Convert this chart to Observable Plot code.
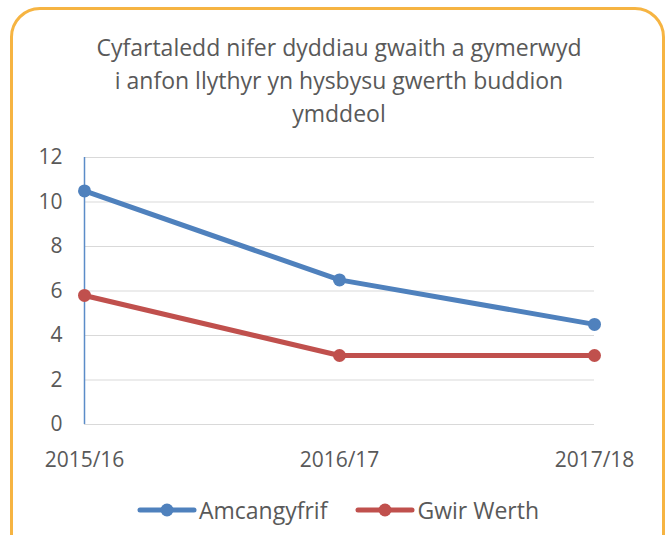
<!DOCTYPE html>
<html><head><meta charset="utf-8">
<script src="https://cdn.jsdelivr.net/npm/d3@7"></script>
<script src="https://cdn.jsdelivr.net/npm/@observablehq/plot@0.6"></script>
<style>
body{margin:0;background:#fff;}
#wrap{position:relative;width:668px;height:535px;overflow:hidden;font-family:"Open Sans",sans-serif;color:#595959;}
#frame{position:absolute;left:10px;top:7px;width:655px;height:560px;border:3px solid #F6B442;border-radius:30px;box-sizing:border-box;}
#title{position:absolute;left:0;top:31px;width:678px;text-align:center;font-size:23px;line-height:33px;}
#chart{position:absolute;left:0;top:140px;}
#legend{position:absolute;top:494px;left:0;width:676px;display:flex;justify-content:center;align-items:center;font-size:23px;}
.item{display:flex;align-items:center;margin:0 14px;}
</style></head>
<body><div id="wrap"><div id="frame"></div>
<div id="title">Cyfartaledd nifer dyddiau gwaith a gymerwyd<br>i anfon llythyr yn hysbysu gwerth buddion<br>ymddeol</div>
<div id="chart"></div><div id="legend"></div></div>
<script>
const categories = ["2015/16", "2016/17", "2017/18"];
const amcangyfrif = [10.5, 6.5, 4.5];
const gwirWerth = [5.8, 3.1, 3.1];
const yTicks = [0, 2, 4, 6, 8, 10, 12];
const seriesNames = ["Amcangyfrif", "Gwir Werth"];
const seriesColors = ["#4F81BD", "#C0504D"];

const data = [];
categories.forEach((c, i) => {
  data.push({cat: c, value: amcangyfrif[i], series: seriesNames[0]});
  data.push({cat: c, value: gwirWerth[i], series: seriesNames[1]});
});

const chart = Plot.plot({
  width: 668, height: 340,
  marginLeft: 84, marginRight: 74, marginTop: 17, marginBottom: 56,
  style: {fontFamily: "'Open Sans', sans-serif", fontSize: "21px", color: "#595959", background: "transparent", overflow: "visible"},
  x: {type: "point", domain: categories, padding: 0, label: null},
  y: {domain: [0, 12], label: null},
  color: {domain: seriesNames, range: seriesColors},
  marks: [
    Plot.ruleY(yTicks, {stroke: "#D9D9D9", strokeWidth: 1.2, strokeOpacity: 1}),
    Plot.ruleX([categories[0]], {y1: 0, y2: 12, stroke: "#5B8CC8", strokeWidth: 1.5}),
    Plot.axisY({ticks: yTicks, tickSize: 0, tickPadding: 22, fontSize: 21, fill: "#595959", label: null}),
    Plot.axisX({tickSize: 0, tickPadding: 28, fontSize: 21, fill: "#595959", label: null}),
    Plot.line(data, {x: "cat", y: "value", z: "series", stroke: "series", strokeWidth: 5}),
    Plot.dot(data, {x: "cat", y: "value", fill: "series", r: 6.5})
  ]
});
document.getElementById("chart").appendChild(chart);

const legend = document.getElementById("legend");
seriesNames.forEach((n, i) => {
  const it = document.createElement("div");
  it.className = "item";
  it.innerHTML = `<svg width="60" height="20"><line x1="3" y1="10" x2="57" y2="10" stroke="${seriesColors[i]}" stroke-width="5" stroke-linecap="round"/><circle cx="30" cy="10" r="6.5" fill="${seriesColors[i]}"/></svg><span style="margin-left:2px">${n}</span>`;
  legend.appendChild(it);
});
</script></body></html>
